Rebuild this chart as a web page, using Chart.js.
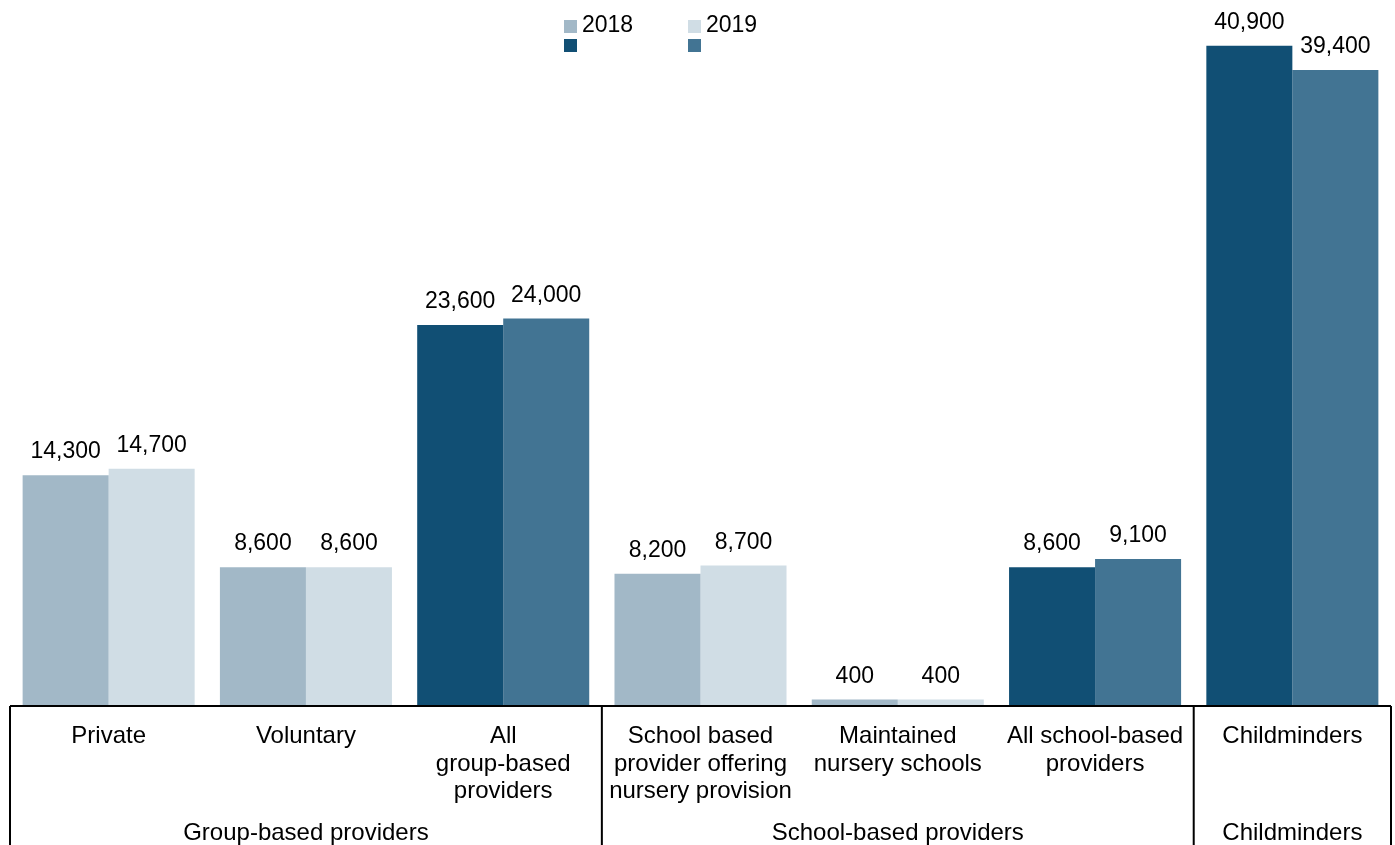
<!DOCTYPE html>
<html>
<head>
<meta charset="utf-8">
<title>Providers 2018 and 2019</title>
<script src="https://cdn.jsdelivr.net/npm/chart.js@4.4.1/dist/chart.umd.min.js"></script>
<style>
  html, body { margin: 0; padding: 0; background: #fff; }
  #wrap { width: 1395px; height: 845px; }
</style>
</head>
<body>
<div id="wrap"><canvas id="providers"></canvas></div>
<script>
const categories = [
    ['Private'],
    ['Voluntary'],
    ['All', 'group-based', 'providers'],
    ['School based', 'provider offering', 'nursery provision'],
    ['Maintained', 'nursery schools'],
    ['All school-based', 'providers'],
    ['Childminders']
];
const values2018 = [14300, 8600, 23600, 8200, 400, 8600, 40900];
const values2019 = [14700, 8600, 24000, 8700, 400, 9100, 39400];
// totals get the darker shades
const isTotal = [false, false, true, false, false, true, true];
const groupNames = ['Group-based providers', 'School-based providers', 'Childminders'];
const groupStart = [0, 3, 6];
const groupEnd = [2, 5, 6];

const LIGHT_2018 = '#a2b8c7';
const LIGHT_2019 = '#d0dde5';
const DARK_2018 = '#114f74';
const DARK_2019 = '#427493';
const FONT = '"Liberation Sans", Arial, sans-serif';

const boxPlugin = {
    id: 'boxAndLabels',
    afterDatasetsDraw(chart) {
        const ctx = chart.ctx;
        const x = chart.scales.x;
        const area = chart.chartArea;
        const half = (x.getPixelForValue(1) - x.getPixelForValue(0)) / 2;

        // value labels above each bar
        ctx.save();
        ctx.font = '23px ' + FONT;
        ctx.fillStyle = '#000';
        ctx.textAlign = 'center';
        ctx.textBaseline = 'alphabetic';
        chart.data.datasets.forEach((ds, di) => {
            chart.getDatasetMeta(di).data.forEach((bar, i) => {
                ctx.fillText(ds.data[i].toLocaleString('en-GB'), bar.x, bar.y - 17);
            });
        });
        ctx.restore();

        // axis box with group separators
        ctx.save();
        ctx.strokeStyle = '#000';
        ctx.lineWidth = 2;
        const left = x.getPixelForValue(0) - half;
        const right = x.getPixelForValue(categories.length - 1) + half;
        ctx.beginPath();
        ctx.moveTo(left, area.bottom);
        ctx.lineTo(right, area.bottom);
        groupStart.forEach(s => {
            const px = x.getPixelForValue(s) - half;
            ctx.moveTo(px, area.bottom);
            ctx.lineTo(px, chart.height);
        });
        ctx.moveTo(right, area.bottom);
        ctx.lineTo(right, chart.height);
        ctx.stroke();

        // group names
        ctx.font = '24px ' + FONT;
        ctx.fillStyle = '#000';
        ctx.textAlign = 'center';
        ctx.textBaseline = 'middle';
        groupNames.forEach((name, g) => {
            const cx = (x.getPixelForValue(groupStart[g]) + x.getPixelForValue(groupEnd[g])) / 2;
            ctx.fillText(name, cx, 833);
        });
        ctx.restore();

        // legend: each year has a light and a dark swatch
        ctx.save();
        const items = [
            { text: '2018', x: 564, colors: [LIGHT_2018, DARK_2018] },
            { text: '2019', x: 688, colors: [LIGHT_2019, DARK_2019] }
        ];
        ctx.font = '23px ' + FONT;
        ctx.textBaseline = 'middle';
        ctx.textAlign = 'left';
        items.forEach(it => {
            ctx.fillStyle = it.colors[0];
            ctx.fillRect(it.x, 20, 13, 13);
            ctx.fillStyle = it.colors[1];
            ctx.fillRect(it.x, 39, 13, 13);
            ctx.fillStyle = '#000';
            ctx.fillText(it.text, it.x + 18, 26);
        });
        ctx.restore();
    }
};

new Chart(document.getElementById('providers'), {
    type: 'bar',
    data: {
        labels: categories,
        datasets: [
            {
                label: '2018',
                data: values2018,
                backgroundColor: isTotal.map(t => t ? DARK_2018 : LIGHT_2018),
                categoryPercentage: 0.872,
                barPercentage: 1
            },
            {
                label: '2019',
                data: values2019,
                backgroundColor: isTotal.map(t => t ? DARK_2019 : LIGHT_2019),
                categoryPercentage: 0.872,
                barPercentage: 1
            }
        ]
    },
    options: {
        responsive: true,
        maintainAspectRatio: false,
        animation: false,
        layout: { padding: { top: 28, left: 10, right: 4, bottom: 0 } },
        plugins: {
            legend: { display: false },
            tooltip: { enabled: false }
        },
        scales: {
            x: {
                grid: { display: false, drawTicks: false },
                border: { display: false },
                ticks: {
                    color: '#000',
                    font: { family: FONT, size: 24, lineHeight: 1.146 },
                    padding: 17,
                    maxRotation: 0,
                    autoSkip: false
                },
                afterFit(scale) { scale.height = 139; }
            },
            y: {
                display: false,
                min: 0,
                max: 42000
            }
        }
    },
    plugins: [boxPlugin]
});
</script>
</body>
</html>
